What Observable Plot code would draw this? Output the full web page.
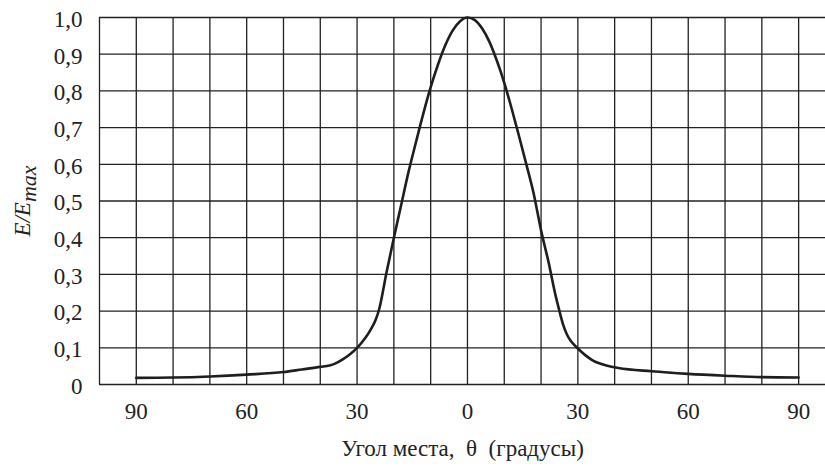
<!DOCTYPE html>
<html>
<head>
<meta charset="utf-8">
<script src="https://cdn.jsdelivr.net/npm/d3@7"></script>
<script src="https://cdn.jsdelivr.net/npm/@observablehq/plot@0.6"></script>
</head>
<body style="margin:0;padding:0;background:#fff">
<div id="chart"></div>
<script>
// Elevation angle θ (degrees, negative = left half) and relative field E/Emax
const angles = [-90, -80, -70, -60, -50, -45, -40, -37.5, -36, -34, -32, -30, -29, -28, -27, -26, -25, -24, -22, -20, -18, -16, -14, -12, -10, -8, -6, -4, -2, 0,
                2, 4, 6, 8, 10, 12, 14, 16, 18, 20, 22, 24, 25, 26, 27, 28, 29, 30, 32, 34, 36, 38, 41, 50, 60, 70, 80, 90];
const values = [0.018, 0.019, 0.022, 0.027, 0.034, 0.041, 0.048, 0.052, 0.057, 0.068, 0.082, 0.100, 0.111, 0.124, 0.138, 0.155, 0.175, 0.205, 0.305, 0.40, 0.49, 0.58, 0.66, 0.738, 0.81, 0.872, 0.925, 0.965, 0.99, 1.0,
                0.993, 0.97, 0.933, 0.882, 0.822, 0.752, 0.677, 0.60, 0.52, 0.42, 0.335, 0.24, 0.20, 0.163, 0.137, 0.120, 0.108, 0.098, 0.080, 0.066, 0.057, 0.051, 0.045, 0.036, 0.029, 0.024, 0.020, 0.019];

const xTicks = [-90, -60, -30, 0, 30, 60, 90];
const xGrid = [-100, -90, -80, -70, -60, -50, -40, -30, -20, -10, 0, 10, 20, 30, 40, 50, 60, 70, 80, 90];
const yTicks = [0, 0.1, 0.2, 0.3, 0.4, 0.5, 0.6, 0.7, 0.8, 0.9, 1.0];
const yTickLabels = ["0", "0,1", "0,2", "0,3", "0,4", "0,5", "0,6", "0,7", "0,8", "0,9", "1,0"];
const xTitle = "Угол места,  θ  (градусы)";

const data = angles.map((a, i) => ({angle: a, value: values[i]}));
const serifFont = "Liberation Serif";

const chart = Plot.plot({
  width: 825,
  height: 474,
  marginLeft: 99,
  marginRight: 0,
  marginTop: 17,
  marginBottom: 90,
  x: {domain: [-100, 97.3]},
  y: {domain: [0, 1]},
  marks: [
    Plot.ruleY(yTicks, {stroke: "#222", strokeWidth: 1.3}),
    Plot.ruleX(xGrid, {y1: 0, y2: 1, stroke: "#222", strokeWidth: 1.3}),
    Plot.line(data, {x: "angle", y: "value", curve: "monotone-x", stroke: "#1e1e1e", strokeWidth: 2.6}),
    Plot.axisX(xTicks, {tickSize: 0, tickPadding: 18, tickFormat: d => String(Math.abs(d)), label: null, fontSize: 23, fontFamily: serifFont, fill: "#222"}),
    Plot.axisY(yTicks, {tickSize: 0, tickPadding: 17, dy: 2, tickFormat: d => yTickLabels[yTicks.indexOf(d)], label: null, fontSize: 23, fontFamily: serifFont, fill: "#222"}),
    Plot.text([xTitle], {frameAnchor: "bottom", text: d => d, dy: 71, fontSize: 23, fontFamily: serifFont, fill: "#222"}),
    Plot.text(["E/E"], {frameAnchor: "left", textAnchor: "middle", text: d => d, rotate: -90, dx: -77, fontSize: 23, fontFamily: serifFont, fontStyle: "italic", fill: "#222", className: "ylab"})
  ]
});

chart.setAttribute("font-family", serifFont);
chart.querySelectorAll("text").forEach(el => { el.style.fontFamily = serifFont; });
document.getElementById("chart").appendChild(chart);

// add the "max" subscript to the y-axis label
const ylabText = chart.querySelector(".ylab text");
if (ylabText) {
  const ts = document.createElementNS("http://www.w3.org/2000/svg", "tspan");
  ts.setAttribute("dy", "0.28em");
  ts.setAttribute("font-size", "22");
  ts.textContent = "max";
  ylabText.appendChild(ts);
}
</script>
</body>
</html>
